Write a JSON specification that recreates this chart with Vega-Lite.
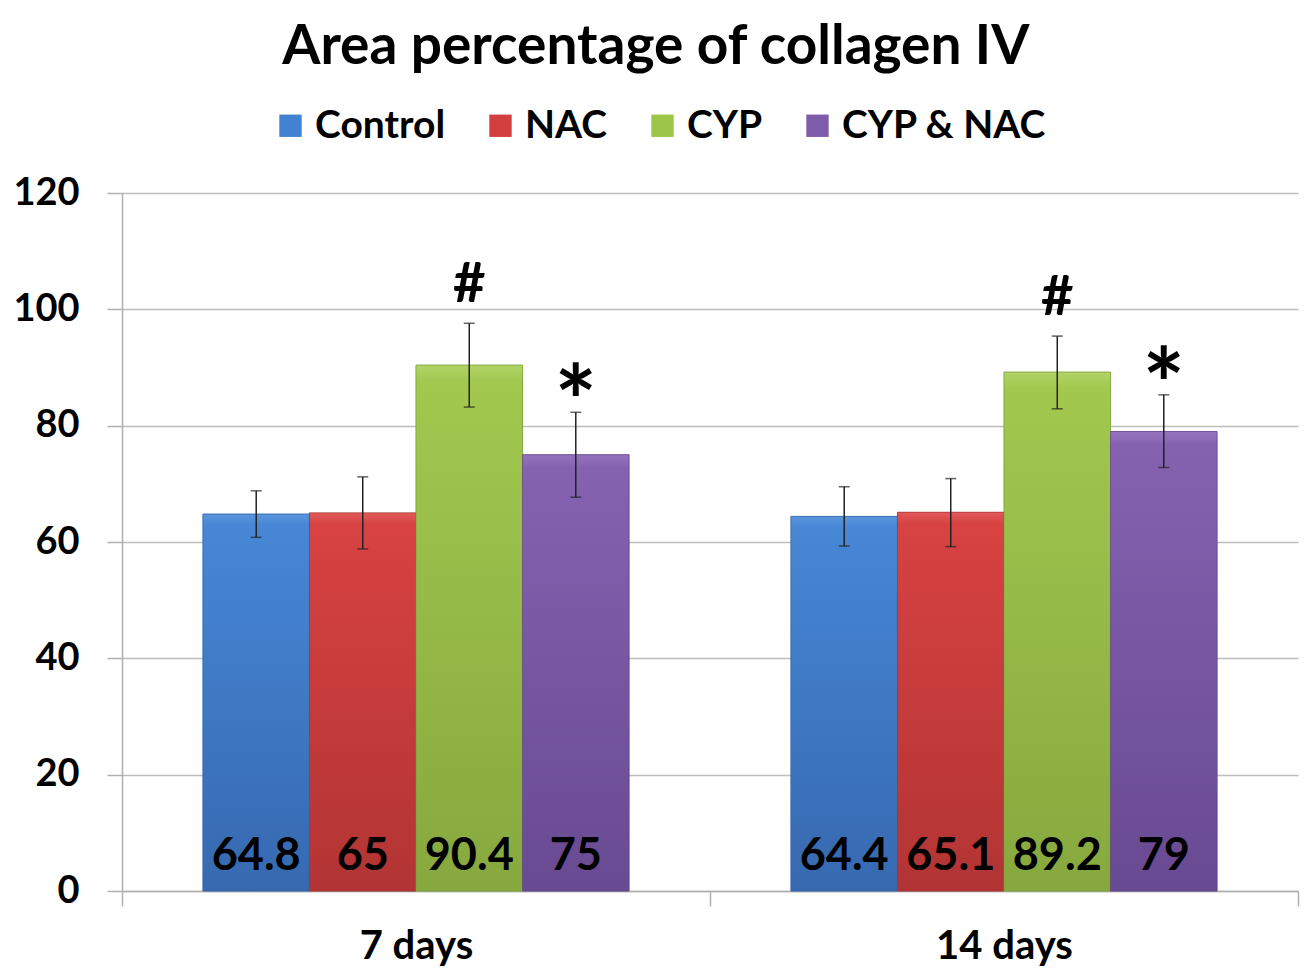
{
  "$schema": "https://vega.github.io/schema/vega-lite/v6.json",
  "width": 1176,
  "height": 698,
  "autosize": {"type": "pad"},
  "padding": {"left": 12, "right": 7, "top": 20, "bottom": 0},
  "background": "white",
  "title": {"text": "Area percentage of collagen IV", "fontSize": 55, "font": "Lato", "fontWeight": "bold", "color": "black", "anchor": "middle", "frame": "bounds", "offset": 30},
  "config": {
    "view": {"stroke": null},
    "font": "Lato",
    "axis": {"labelFont": "Lato", "labelFontWeight": "bold", "labelFontSize": 38, "labelColor": "black", "domainColor": "#b0b0b0", "tickColor": "#b0b0b0", "gridColor": "#bdbdbd", "domainWidth": 1.5, "tickWidth": 1.5, "gridWidth": 1.5, "title": null}
  },
  "data": {"values": [
    {"day": "7 days", "group": "Control", "value": 64.8, "lower": 60.8, "upper": 68.8, "sig": ""},
    {"day": "7 days", "group": "NAC", "value": 65, "lower": 58.8, "upper": 71.2, "sig": ""},
    {"day": "7 days", "group": "CYP", "value": 90.4, "lower": 83.2, "upper": 97.6, "sig": "#"},
    {"day": "7 days", "group": "CYP & NAC", "value": 75, "lower": 67.7, "upper": 82.3, "sig": "*"},
    {"day": "14 days", "group": "Control", "value": 64.4, "lower": 59.3, "upper": 69.5, "sig": ""},
    {"day": "14 days", "group": "NAC", "value": 65.1, "lower": 59.2, "upper": 70.9, "sig": ""},
    {"day": "14 days", "group": "CYP", "value": 89.2, "lower": 82.9, "upper": 95.4, "sig": "#"},
    {"day": "14 days", "group": "CYP & NAC", "value": 79, "lower": 72.8, "upper": 85.3, "sig": "*"}
  ]},
  "encoding": {
    "x": {"field": "day", "type": "nominal", "sort": ["7 days", "14 days"],
      "scale": {"paddingInner": 0, "paddingOuter": 0},
      "axis": {"labelAngle": 0, "tickBand": "extent", "tickSize": 15, "labelPadding": 20, "labelFontSize": 40, "grid": false}},
    "xOffset": {"field": "group", "type": "nominal", "sort": ["Control", "NAC", "CYP", "CYP & NAC"],
      "scale": {"paddingInner": 0, "paddingOuter": 0.76}}
  },
  "layer": [
    {
      "mark": {"type": "bar", "strokeWidth": 1, "strokeOpacity": 0.6},
      "encoding": {
        "y": {"field": "value", "type": "quantitative", "scale": {"domain": [0, 120], "nice": false},
          "axis": {"values": [0, 20, 40, 60, 80, 100, 120], "tickSize": 15, "labelPadding": 28, "grid": true}},
        "color": {"field": "group", "type": "nominal", "sort": ["Control", "NAC", "CYP", "CYP & NAC"],
          "scale": {"domain": ["Control", "NAC", "CYP", "CYP & NAC"], "range": ["#4282d2", "#d33f3f", "#9dc649", "#7f5caa"]},
          "legend": {"orient": "none", "legendX": 149, "legendY": -87, "direction": "horizontal", "title": null,
            "symbolType": "square", "symbolSize": 500, "symbolStrokeWidth": 0, "symbolOpacity": 1,
            "labelFont": "Lato", "labelFontWeight": "bold", "labelFontSize": 39, "labelColor": "black", "labelLimit": 500,
            "columnPadding": 35, "labelOffset": 5}},
        "stroke": {"field": "group", "type": "nominal", "scale": {"domain": ["Control", "NAC", "CYP", "CYP & NAC"], "range": ["#2f64a8", "#a83030", "#7a9e35", "#5f4288"]}, "legend": null}
      }
    },
    {
      "mark": {"type": "bar", "strokeWidth": 1, "strokeOpacity": 0.6},
      "encoding": {
        "y": {"field": "value", "type": "quantitative"},
        "fill": {"condition": [
          {"test": "datum.group == 'Control'", "value": {"gradient": "linear", "x1": 0, "y1": 0, "x2": 0, "y2": 1, "stops": [{"offset": 0, "color": "#5b95dd"}, {"offset": 0.03, "color": "#4787d6"}, {"offset": 1, "color": "#3669b0"}]}},
          {"test": "datum.group == 'NAC'", "value": {"gradient": "linear", "x1": 0, "y1": 0, "x2": 0, "y2": 1, "stops": [{"offset": 0, "color": "#e25a5a"}, {"offset": 0.03, "color": "#d84242"}, {"offset": 1, "color": "#b23434"}]}},
          {"test": "datum.group == 'CYP'", "value": {"gradient": "linear", "x1": 0, "y1": 0, "x2": 0, "y2": 1, "stops": [{"offset": 0, "color": "#b2d468"}, {"offset": 0.03, "color": "#a2c84f"}, {"offset": 1, "color": "#87a83e"}]}}
        ], "value": {"gradient": "linear", "x1": 0, "y1": 0, "x2": 0, "y2": 1, "stops": [{"offset": 0, "color": "#9574be"}, {"offset": 0.03, "color": "#8462b0"}, {"offset": 1, "color": "#684a92"}]}},
        "stroke": {"field": "group", "type": "nominal", "legend": null}
      }
    },
    {
      "mark": {"type": "rule", "color": "#222222", "strokeWidth": 1.5},
      "encoding": {"y": {"field": "lower", "type": "quantitative"}, "y2": {"field": "upper"}}
    },
    {
      "mark": {"type": "tick", "color": "#222222", "thickness": 1.5, "size": 11, "orient": "horizontal"},
      "encoding": {"y": {"field": "lower", "type": "quantitative"}}
    },
    {
      "mark": {"type": "tick", "color": "#222222", "thickness": 1.5, "size": 11, "orient": "horizontal"},
      "encoding": {"y": {"field": "upper", "type": "quantitative"}}
    },
    {
      "mark": {"type": "text", "baseline": "alphabetic", "dy": -21, "fontSize": 45, "fontWeight": "bold", "font": "Lato", "color": "black"},
      "encoding": {"y": {"datum": 0, "type": "quantitative"}, "text": {"field": "value", "type": "quantitative"}}
    },
    {
      "transform": [{"filter": "datum.sig == '#'"}],
      "mark": {"type": "text", "baseline": "alphabetic", "dy": -21, "fontSize": 56, "fontWeight": "bold", "font": "Lato", "color": "black"},
      "encoding": {"y": {"field": "upper", "type": "quantitative"}, "text": {"field": "sig"}}
    },
    {
      "transform": [{"filter": "datum.sig == '*'"}],
      "mark": {"type": "text", "baseline": "alphabetic", "dy": 26, "fontSize": 100, "fontWeight": "bold", "font": "Lato", "color": "black"},
      "encoding": {"y": {"field": "upper", "type": "quantitative"}, "text": {"field": "sig"}}
    }
  ]
}
